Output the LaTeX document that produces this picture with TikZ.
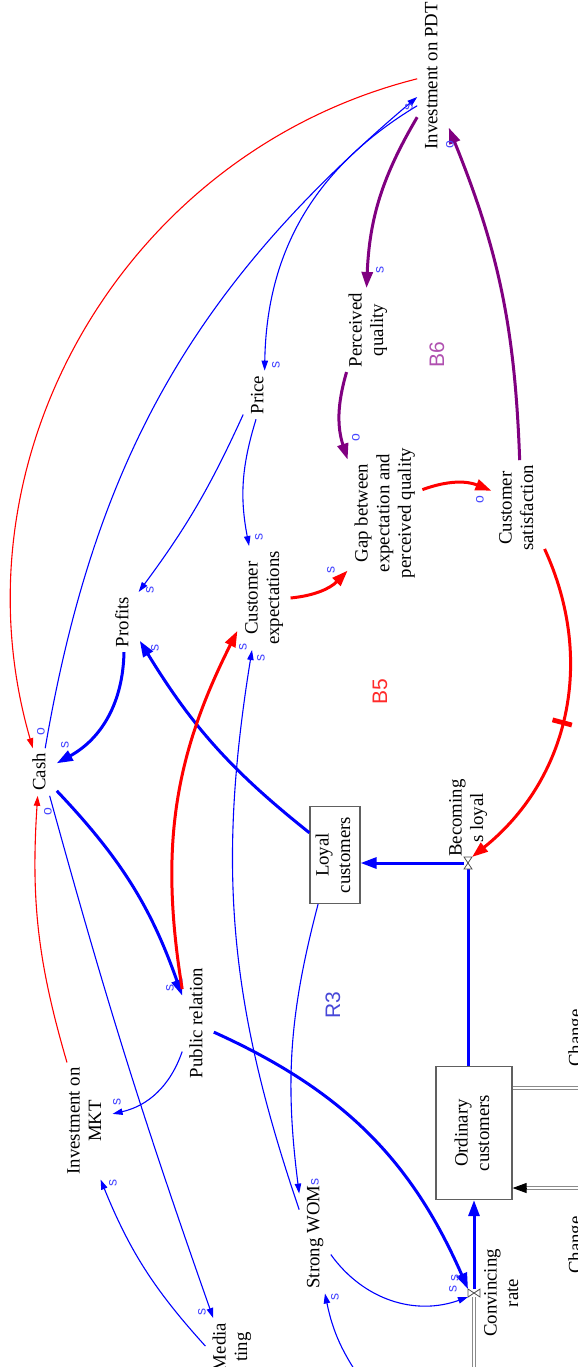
\documentclass[tikz,border=0pt]{standalone}
\usepackage{fontspec}
\setmainfont{Liberation Serif}
\setsansfont{Liberation Sans}
\usepackage{graphicx}
\usepackage{tikz}
\usetikzlibrary{arrows.meta}
\definecolor{PURP}{HTML}{800080}
\definecolor{POL}{HTML}{4646FF}
\definecolor{LBSIX}{HTML}{B050B0}
\definecolor{LRTHREE}{HTML}{4848D8}
\definecolor{LBFIVE}{HTML}{FF2A2A}
\definecolor{BOXL}{HTML}{606060}
\definecolor{PIPE}{HTML}{8A8A8A}
\newcommand{\vlbl}[1]{\rotatebox{90}{\begin{tabular}{@{}c@{}}#1\end{tabular}}}

\begin{document}
\begin{tikzpicture}[x=0.5pt,y=0.5pt]
\tikzset{var/.style={inner sep=1pt,outer sep=1.5pt,font=\fontsize{9.4}{10.8}\selectfont},
 stock/.style={draw=BOXL,line width=0.6pt,inner sep=0pt,font=\fontsize{9.4}{10.8}\selectfont},
 lk/.style={-{Triangle[length=5pt,width=3.2pt]},line width=0.55pt},
 lkb/.style={-{Triangle[length=8pt,width=5.5pt]},line width=1.5pt},
 flow/.style={blue,line width=1.5pt},
 pipe/.style={draw=PIPE,double=white,double distance=1.1pt,line width=0.5pt},
 vlv/.style={inner sep=0pt,outer sep=0pt},
 vlvline/.style={draw=black!70,fill=white,line width=0.4pt},
 pol/.style={font=\sffamily\fontsize{7}{7}\selectfont,text=POL,inner sep=0pt,rotate=90},
 loopl/.style={font=\sffamily\fontsize{10.5}{10.5}\selectfont,inner sep=0pt,rotate=90},
 dly/.style={sloped,fill=red,inner sep=0pt,minimum width=2.4pt,minimum height=10pt}}
\useasboundingbox (0,0) rectangle (578,-1367);
\clip (0,0) rectangle (578,-1367);

% variables
\node[var] (pdt) at (433,-76) {\vlbl{Investment on PDT}};
\node[var] (pq) at (368,-330) {\vlbl{Perceived\\quality}};
\node[var] (price) at (259,-395) {\vlbl{Price}};
\node[var] (gap) at (385,-513) {\vlbl{Gap between\\expectation and\\perceived quality}};
\node[var] (csat) at (518,-508) {\vlbl{Customer\\satisfaction}};
\node[var] (cexp) at (264,-598) {\vlbl{Customer\\expectations}};
\node[var] (prof) at (124,-622) {\vlbl{Profits}};
\node[var] (cash) at (41,-772) {\vlbl{Cash}};
\node[var] (pr) at (198,-1023) {\vlbl{Public relation}};
\node[var] (mkt) at (86,-1121) {\vlbl{Investment on\\MKT}};
\node[var] (wom) at (315,-1237) {\vlbl{Strong WOM}};
\node[var] (media) at (232,-1347) {\vlbl{Media\\ting}};
\node[var] (chga) at (577,-1038) {\vlbl{Change}};
\node[var] (chgb) at (577,-1245) {\vlbl{Change}};
\node[var] (bl) at (468,-818) {\vlbl{Becoming\\s loyal}};
\node[var] (cvl) at (503,-1293) {\vlbl{Convincing\\rate}};

% stocks
\node[stock,minimum width=25pt,minimum height=48.5pt] (loyal) at (335,-855) {\vlbl{Loyal\\customers}};
\node[stock,minimum width=38pt,minimum height=66.5pt] (ord) at (474,-1133) {\vlbl{Ordinary\\customers}};

% valves and free ends
\node[vlv,minimum width=4pt,minimum height=6pt] (bv) at (468,-863) {};
\node[vlv,minimum width=6pt,minimum height=4pt] (cv) at (474,-1293) {};
\coordinate (outr) at (600,-1088);
\coordinate (inr) at (600,-1188);
\coordinate (inE) at (ord.east |- inr);
\coordinate (srcb) at (474,-1400);
\coordinate (womin) at (365,-1385);

% pipes and flows
\draw[pipe] (ord.east |- outr) -- (outr);
\draw[pipe] (inr) -- ([xshift=6pt]inE);
\draw[-{Triangle[length=7pt,width=5pt]},black,line width=0.5pt] ([xshift=7pt]inE) -- (inE);
\draw[pipe] (srcb) -- (cv);
\draw[flow,-{Triangle[length=8pt,width=5.5pt]}] (bv |- ord.north) -- (bv) -- (bv -| loyal.east);
\draw[flow,-{Triangle[length=8pt,width=5.5pt]}] (cv) -- (cv |- ord.south);
\draw[vlvline] (bv.north west) -- (bv.north east) -- (bv.south west) -- (bv.south east) -- cycle;
\draw[vlvline] (cv.north west) -- (cv.south west) -- (cv.north east) -- (cv.south east) -- cycle;

% causal links
\draw[lk,blue] (cash.80) to[bend left=20] (pdt.233);
\draw[lk,blue] (pdt.242) to[bend right=29] (price.77);
\draw[lk,red] (pdt.190) to[bend right=46] (cash.109);
\draw[lkb,PURP] (pdt.249) to[bend right=14] (pq.92);
\draw[lkb,PURP] (csat.88) to[bend right=10] (pdt.287);
\draw[lkb,PURP] (pq.243) to[bend right=17] (gap.125);
\draw[lkb,red] (cexp.east) to[bend right=20] (gap.237);
\draw[lkb,red] (gap.32) to[bend left=21] (csat.147);
\draw[lkb,red] (csat.303) to[bend left=38] node[dly,pos=0.52]{} (bv.north east);
\draw[lk,blue] (price.231) to[bend left=6] (prof.64);
\draw[lk,blue] (price.263) to[bend right=14] (cexp.106);
\draw[lkb,blue] (prof.south) to[bend left=30] (cash.29);
\draw[lkb,blue] (loyal.139) to[bend left=10] (prof.310);
\draw[lkb,blue] (cash.310) to[bend left=12] (pr.120);
\draw[lkb,red] (pr.115) to[bend left=18] (cexp.231);
\draw[lk,blue] (wom.120) to[bend left=14] (cexp.257);
\draw[lk,blue] (loyal.251) to[bend right=11] (wom.110);
\draw[lk,blue] (cash.290) to[bend right=2] (media.123);
\draw[lk,red] (mkt.108) to[bend left=10] (cash.262);
\draw[lk,blue] (pr.241) to[bend left=29] (mkt.15);
\draw[lk,blue] (media.178) to[bend left=10] (mkt.284);
\draw[lk,blue] (womin) to[bend left=12] (wom.280);
\draw[lk,blue] (wom.312) to[bend right=37] (cv.south west);
\draw[lkb,blue] (pr.330) to[bend left=21] (cv.north west);

% polarities
\node[pol] (s1) at (409,-107) {s};
\node[pol] (o1) at (450,-145) {o};
\node[pol] (s2) at (380,-270) {s};
\node[pol] (s3) at (276,-365) {s};
\node[pol] (o2) at (356,-438) {o};
\node[pol] (s4) at (331,-570) {s};
\node[pol] (o3) at (480,-500) {o};
\node[pol] (s5) at (259,-537) {s};
\node[pol] (s6) at (150,-590) {s};
\node[pol] (s7) at (155,-648) {s};
\node[pol] (s8) at (243,-647) {s};
\node[pol] (s9) at (261,-658) {s};
\node[pol] (o4) at (41,-732) {o};
\node[pol] (s10) at (65,-745) {s};
\node[pol] (o5) at (48,-812) {o};
\node[pol] (s11) at (170,-988) {s};
\node[pol] (s12) at (117,-1102) {s};
\node[pol] (s13) at (113,-1183) {s};
\node[pol] (s14) at (202,-1312) {s};
\node[pol] (s15) at (315,-1182) {s};
\node[pol] (s16) at (335,-1297) {s};
\node[pol] (s17) at (453,-1289) {s};
\node[pol] (s18) at (455,-1278) {s};

% loops
\node[loopl,text=LBSIX] (lb6) at (437,-355) {B6};
\node[loopl,text=LBFIVE] (lb5) at (380,-692) {B5};
\node[loopl,text=LRTHREE] (lr3) at (333,-1005) {R3};
\end{tikzpicture}
\end{document}
